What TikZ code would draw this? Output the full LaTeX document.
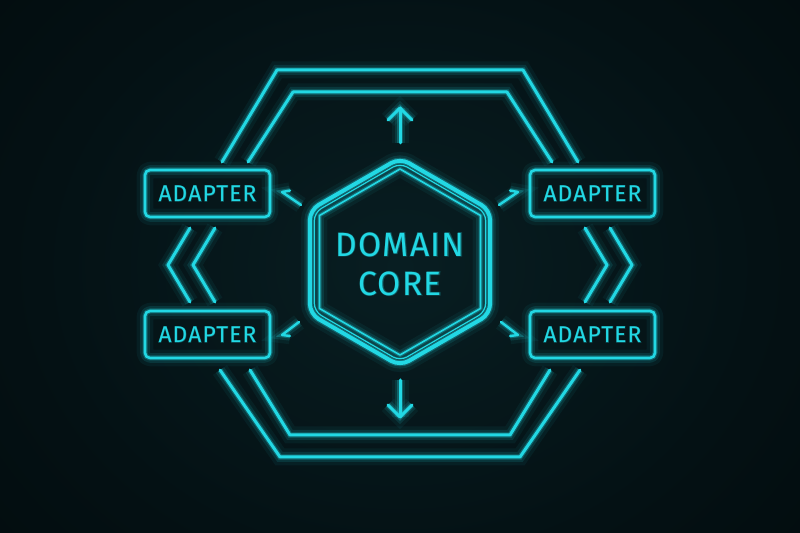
\documentclass[tikz,border=0pt]{standalone}
\usepackage{fontspec}
\setmainfont{Fira Sans}
\definecolor{neon}{RGB}{34,216,228}
\definecolor{bgin}{RGB}{8,30,34}
\definecolor{bgmid}{RGB}{4,17,20}
\definecolor{bgout}{RGB}{1,7,9}
\pgfdeclareradialshading{bgglow}{\pgfpoint{0bp}{0bp}}{color(0bp)=(bgin); color(18bp)=(bgmid); color(38bp)=(bgout); color(50bp)=(bgout)}
\tikzset{
  neon/.style={draw=neon, line width=#1, line cap=round, line join=round,
    preaction={draw=neon, line width=#1+7pt, opacity=0.06},
    preaction={draw=neon, line width=#1+3.5pt, opacity=0.12},
    preaction={draw=neon, line width=#1+1.2pt, opacity=0.28}},
  neon/.default=1.5pt,
  adapterbox/.style={neon=1.3pt, rounded corners=2.5pt, minimum width=62.5pt, minimum height=23.5pt, inner sep=0pt},
  glowtext/.style={text=neon, font=\fontsize{11.4}{13}\selectfont\addfontfeatures{LetterSpace=5}},
  coretext/.style={text=neon, font=\fontsize{16.8}{19.5}\selectfont\addfontfeatures{LetterSpace=4}, align=center},
  halo/.style={text=neon, text opacity=0.22},
}
\newcommand\adaptertext{ADAPTER}
\begin{document}
\begin{tikzpicture}[x=0.5pt,y=-0.5pt]
\useasboundingbox (0,0) rectangle (800,533);
\begin{scope}
\clip (0,0) rectangle (800,533);
\shade[shading=bgglow] (-100,-150) rectangle (900,683);
\end{scope}

% outer frame (double hexagonal band, broken at adapters)
\draw[neon] (222,162) -- (277,70) -- (523,70) -- (578,162);
\draw[neon] (248,162) -- (293,92) -- (507,92) -- (552,162);
\draw[neon] (190,228) -- (168,265) -- (190,302);
\draw[neon] (215,228) -- (193,265) -- (215,302);
\draw[neon] (610,228) -- (632,265) -- (610,302);
\draw[neon] (585,228) -- (607,265) -- (585,302);
\draw[neon] (220,370) -- (280,457) -- (520,457) -- (580,370);
\draw[neon] (250,370) -- (290,435) -- (510,435) -- (550,370);

% core hexagon
\draw[neon=2pt, rounded corners=5pt] (400,158) -- (490.1,210) -- (490.1,314) -- (400,366) -- (309.9,314) -- (309.9,210) -- cycle;
\draw[draw=neon, line width=0.6pt, rounded corners=4pt] (400,163) -- (485.7,212.5) -- (485.7,311.5) -- (400,361) -- (314.3,311.5) -- (314.3,212.5) -- cycle;
\draw[neon=0.8pt] (400,169) -- (480.5,215.5) -- (480.5,308.5) -- (400,355) -- (319.5,308.5) -- (319.5,215.5) -- cycle;

\node[halo, coretext, font=\fontsize{16.8}{19.5}\selectfont\addfontfeatures{LetterSpace=4,FakeBold=4}] at (400,264) {DOMAIN\\CORE};
\node[coretext] (core) at (400,264) {DOMAIN\\CORE};

% adapters
\foreach \n/\x/\y in {a1/207.5/193.5, a2/207.5/334.5, a3/592.5/193.5, a4/592.5/334.5}{
  \node[adapterbox] (\n) at (\x,\y) {};
  \node[halo, glowtext, font=\fontsize{11.4}{13}\selectfont\addfontfeatures{LetterSpace=5,FakeBold=4}] at (\x,\y) {\adaptertext};
  \node[glowtext] at (\x,\y) {\adaptertext};
}

% vertical arrows
\coordinate (upS) at (400,143); \coordinate (upT) at (400,108);
\coordinate (dnS) at (400,380); \coordinate (dnT) at (400,417);
\draw[neon] (upS) -- (upT);
\draw[neon] (388,120) -- (upT) -- (412,120);
\draw[neon] (dnS) -- (dnT);
\draw[neon] (388,405) -- (dnT) -- (412,405);

% small diagonal ticks toward adapters
\draw[neon=1.2pt] (301,205) -- (282,192) -- (290,190.5);
\draw[neon=1.2pt] (499,205) -- (518,192) -- (510,190.5);
\draw[neon=1.2pt] (299,322) -- (282,335) -- (290,336);
\draw[neon=1.2pt] (501,322) -- (518,335) -- (510,336);
\end{tikzpicture}
\end{document}
